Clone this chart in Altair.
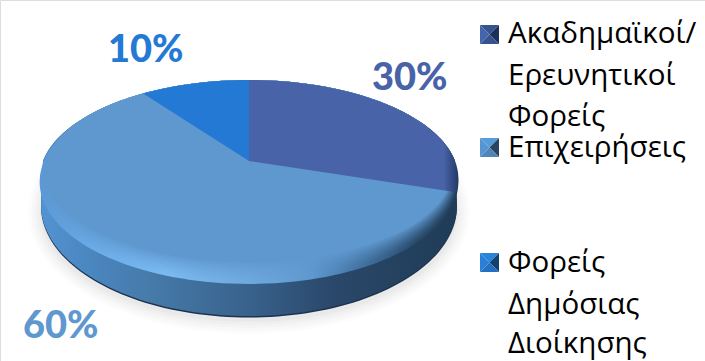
import math
import altair as alt
import pandas as pd

# Chart values
categories = ["Ακαδημαϊκοί/ Ερευνητικοί Φορείς", "Επιχειρήσεις", "Φορείς Δημόσιας Διοίκησης"]
shares = [30, 60, 10]
slice_colors = ["#4863A8", "#5F98CF", "#2479D4"]
legend_lines = [
    ["Ακαδημαϊκοί/", "Ερευνητικοί", "Φορείς"],
    ["Επιχειρήσεις"],
    ["Φορείς", "Δημόσιας", "Διοίκησης"],
]
legend_baselines = [[43, 85, 126], [157], [272, 314, 353]]
swatch_tops = [25, 138, 253]
swatch_facets = [
    ["#36558F", "#4464AC", "#1D3059", "#35548F"],
    ["#559CDA", "#5596D2", "#2B4560", "#4F86B8"],
    ["#2A84DC", "#2A7FD8", "#13426E", "#2470C0"],
]
label_anchor = [(372, 90), (23, 338), (108, 62)]

# Geometry of the tilted disc (perspective view of a unit circle)
CX, CY, RAD, HGT, P = 249.0, 161.0, 206.0, 95.4, 0.178
TOP_Y = CY - HGT / (1 + P)
BODY_DROP = (205.0, 208.0, 111.0)


def disc_point(deg, x_scale=1.0, y_scale=1.0):
    t = math.radians(deg)
    u, v = math.sin(t), math.cos(t)
    w = 1 + P * v
    x = CX + RAD * x_scale * u / w
    y = CY - HGT * v / w
    return [x, TOP_Y + (y - TOP_Y) * y_scale]


def feature(ring):
    closed = ring + [ring[0]]
    return {"type": "Feature", "properties": {},
            "geometry": {"type": "Polygon", "coordinates": [closed]}}


def disc_ring(x_scale=1.0, y_scale=1.0):
    return [disc_point(d, x_scale, y_scale) for d in range(0, 360, 2)]


def wedge_ring(start, end, x_scale=1.0, y_scale=1.0):
    steps = max(2, int(end - start))
    arc = [disc_point(start + (end - start) * i / steps, x_scale, y_scale)
           for i in range(steps + 1)]
    return [[CX, CY]] + arc


def ellipse_ring(cx, cy, rx, ry):
    return [[cx + rx * math.cos(math.radians(d)), cy + ry * math.sin(math.radians(d))]
            for d in range(0, 360, 3)]


def body_ring(extra=0.0):
    cy, rx, ry = BODY_DROP
    lower = [[CX + rx * math.cos(math.radians(d)), cy + extra + ry * math.sin(math.radians(d))]
             for d in range(0, 181, 2)]
    upper = [disc_point(d) for d in range(270, 451, 2)]
    return lower + upper


def mix(c1, c2, t):
    a = [int(c1[i:i + 2], 16) for i in (1, 3, 5)]
    b = [int(c2[i:i + 2], 16) for i in (1, 3, 5)]
    return "#" + "".join(f"{round(p + (q - p) * t):02x}" for p, q in zip(a, b))


def gradient(stops):
    return {"gradient": "linear", "x1": 0, "x2": 1, "y1": 0, "y2": 0,
            "stops": [{"offset": o, "color": c} for o, c in stops]}


def shape(ring, **style):
    return (
        alt.Chart(alt.Data(values=[feature(ring)]))
        .mark_geoshape(strokeWidth=0, **style)
        .project(type="identity", scale=1, translate=[0, 0])
    )


layers = []

# Soft ground shadow under the disc
for grow, alpha in [(14, 0.012), (11, 0.014), (8, 0.016), (5, 0.02), (2, 0.024)]:
    layers.append(shape(ellipse_ring(CX, 212, 207 + grow, 108 + grow), fill="#000000", opacity=alpha))

# Side wall
side_stops = [(0, "#5493D2"), (0.12, "#4A86BF"), (0.27, "#467AA8"), (0.5, "#38628C"),
              (0.7, "#2A486A"), (1, "#1F3B56")]
layers.append(shape(body_ring(1.5), fill="#1B3350"))
layers.append(shape(body_ring(), fill=gradient(side_stops)))

# Bevel around the top face, fading into the face colour
rim_stops = [(0, "#5A98D6"), (0.12, "#6AAAE6"), (0.3, "#7ABAF2"), (0.5, "#6EA9DD"),
             (0.65, "#5F98CF"), (0.78, "#3F6F9C"), (0.9, "#284A6A"), (1, "#203A55")]
rim_steps = 9
for i in range(rim_steps):
    t = i / (rim_steps - 1)
    ys = 1.035 + (0.925 - 1.035) * t
    xs = 1.0 - 0.03 * t
    stops = [(o, mix(c, slice_colors[1], t ** 1.3)) for o, c in rim_stops]
    layers.append(shape(disc_ring(xs, ys), fill=gradient(stops)))

# Pie slices, clockwise from twelve o'clock
starts = [sum(shares[:i]) * 3.6 for i in range(len(shares))]
ends = [sum(shares[:i + 1]) * 3.6 for i in range(len(shares))]
layers.append(shape(wedge_ring(starts[1], ends[1], 0.97, 0.925), fill=slice_colors[1]))
layers.append(shape(wedge_ring(starts[0], ends[0]), fill=gradient(
    [(0, slice_colors[0]), (0.93, slice_colors[0]), (1, "#233A66")])))
layers.append(shape(wedge_ring(starts[2], ends[2]), fill=slice_colors[2]))

# Legend swatches: a small square bevelled into four facets
SW = 19
for top, facets in zip(swatch_tops, swatch_facets):
    left = 480
    nw, ne = [left, top], [left + SW, top]
    se, sw = [left + SW, top + SW], [left, top + SW]
    mid = [left + SW / 2, top + SW / 2]
    for ring, col in zip([[nw, ne, mid], [nw, mid, sw], [ne, se, mid], [sw, mid, se]], facets):
        layers.append(shape(ring, fill=col))

# Percentage labels
pct = pd.DataFrame({
    "text": [f"{v}%" for v in shares],
    "x": [a[0] for a in label_anchor],
    "y": [a[1] for a in label_anchor],
    "color": slice_colors,
})
layers.append(
    alt.Chart(pct)
    .mark_text(font="Lato", fontWeight=900, fontSize=38, align="left", baseline="alphabetic")
    .encode(x=alt.X("x:Q", scale=None), y=alt.Y("y:Q", scale=None),
            text="text:N", color=alt.Color("color:N", scale=None))
)

# Legend text
legend_rows = pd.DataFrame(
    [{"text": t, "y": y} for lines, ys in zip(legend_lines, legend_baselines) for t, y in zip(lines, ys)]
)
layers.append(
    alt.Chart(legend_rows)
    .mark_text(font="Open Sans", fontSize=29.5, align="left", baseline="alphabetic", color="#000000")
    .encode(x=alt.value(508), y=alt.Y("y:Q", scale=None), text="text:N")
)

chart = (
    alt.layer(*layers)
    .properties(width=705, height=361, padding=0, autosize=alt.AutoSizeParams(type="none"))
    .configure_view(stroke=None)
    .configure(background="#ffffff")
)

chart.save("out.html", embed_options={"renderer": "svg", "actions": False})
